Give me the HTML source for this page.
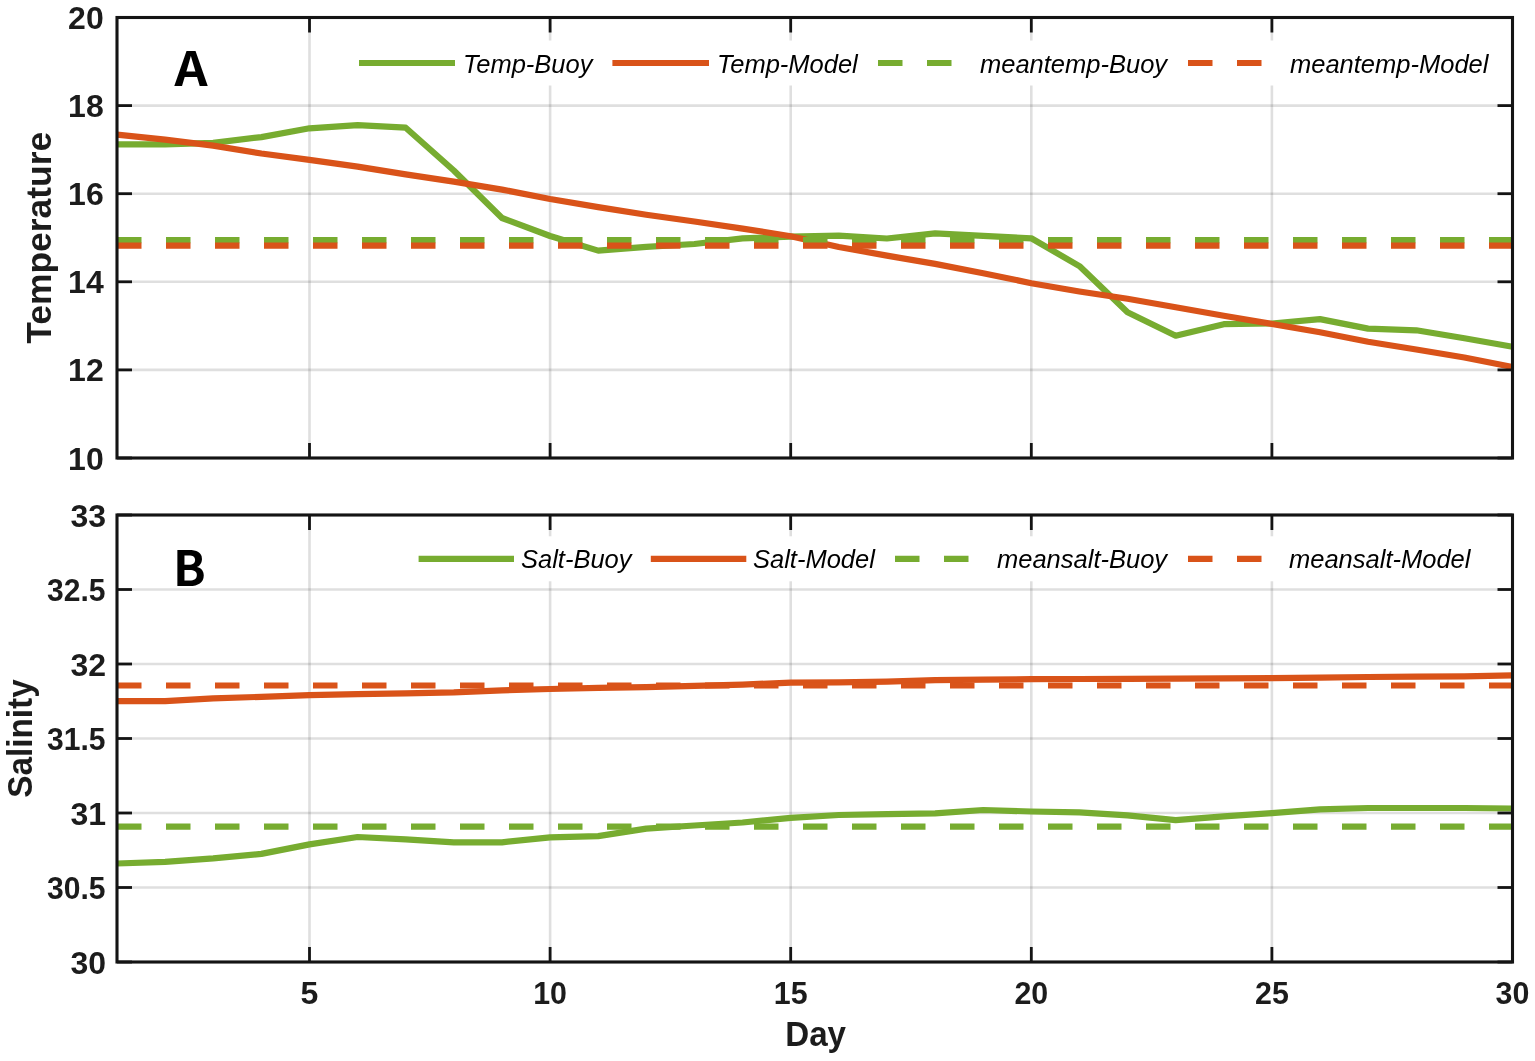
<!DOCTYPE html>
<html><head><meta charset="utf-8"><title>Temperature and Salinity</title><style>
html,body{margin:0;padding:0;background:#fff;}
body{width:1535px;height:1061px;overflow:hidden;}
svg{display:block;}
.tk{font-family:"Liberation Sans",Arial,sans-serif;font-weight:bold;font-size:32px;fill:#1c1c1c;}
.lb{font-family:"Liberation Sans",Arial,sans-serif;font-weight:bold;font-size:35px;fill:#1c1c1c;}
.lg{font-family:"Liberation Sans",Arial,sans-serif;font-style:italic;font-size:25.5px;fill:#000;}
.let{font-family:"Noto Sans CJK JP","Liberation Sans",sans-serif;font-weight:bold;font-size:48px;fill:#000;}
</style></head><body>
<svg width="1535" height="1061" viewBox="0 0 1535 1061">
<rect width="1535" height="1061" fill="#fff"/>
<line x1="309.5" y1="17.5" x2="309.5" y2="458.0" stroke="#262626" stroke-opacity="0.15" stroke-width="2.6"/>
<line x1="550.1" y1="17.5" x2="550.1" y2="458.0" stroke="#262626" stroke-opacity="0.15" stroke-width="2.6"/>
<line x1="790.7" y1="17.5" x2="790.7" y2="458.0" stroke="#262626" stroke-opacity="0.15" stroke-width="2.6"/>
<line x1="1031.3" y1="17.5" x2="1031.3" y2="458.0" stroke="#262626" stroke-opacity="0.15" stroke-width="2.6"/>
<line x1="1271.9" y1="17.5" x2="1271.9" y2="458.0" stroke="#262626" stroke-opacity="0.15" stroke-width="2.6"/>
<line x1="117.0" y1="458.0" x2="1512.5" y2="458.0" stroke="#262626" stroke-opacity="0.15" stroke-width="2.6"/>
<line x1="117.0" y1="369.9" x2="1512.5" y2="369.9" stroke="#262626" stroke-opacity="0.15" stroke-width="2.6"/>
<line x1="117.0" y1="281.8" x2="1512.5" y2="281.8" stroke="#262626" stroke-opacity="0.15" stroke-width="2.6"/>
<line x1="117.0" y1="193.7" x2="1512.5" y2="193.7" stroke="#262626" stroke-opacity="0.15" stroke-width="2.6"/>
<line x1="117.0" y1="105.6" x2="1512.5" y2="105.6" stroke="#262626" stroke-opacity="0.15" stroke-width="2.6"/>
<line x1="117.0" y1="17.5" x2="1512.5" y2="17.5" stroke="#262626" stroke-opacity="0.15" stroke-width="2.6"/>
<polyline points="117.0,144.3 165.1,144.3 213.2,142.8 261.4,137.1 309.5,128.3 357.6,125.1 405.7,127.7 453.8,170.5 502.0,218.0 550.1,236.0 598.2,250.6 646.3,246.8 694.4,244.0 742.6,238.4 790.7,236.7 838.8,235.6 886.9,238.5 935.1,233.4 983.2,235.9 1031.3,238.3 1079.4,266.1 1127.5,312.3 1175.7,335.7 1223.8,324.2 1271.9,323.5 1320.0,319.1 1368.1,328.6 1416.3,330.3 1464.4,338.3 1512.5,346.7" fill="none" stroke="#77AC30" stroke-width="6.2" stroke-linejoin="round"/>
<polyline points="117.0,134.6 165.1,139.6 213.2,145.6 261.4,153.5 309.5,159.9 357.6,166.6 405.7,174.4 453.8,181.6 502.0,189.6 550.1,199.0 598.2,207.1 646.3,214.7 694.4,221.5 742.6,228.6 790.7,236.2 838.8,247.0 886.9,255.6 935.1,263.9 983.2,273.2 1031.3,283.2 1079.4,291.5 1127.5,298.8 1175.7,307.2 1223.8,315.7 1271.9,324.0 1320.0,332.3 1368.1,341.7 1416.3,349.5 1464.4,357.5 1512.5,367.0" fill="none" stroke="#D95319" stroke-width="6.2" stroke-linejoin="round"/>
<line x1="117.0" y1="240.1" x2="1512.5" y2="240.1" stroke="#77AC30" stroke-width="6.2" stroke-dasharray="24.5 24.5"/>
<line x1="117.0" y1="245.6" x2="1512.5" y2="245.6" stroke="#D95319" stroke-width="6.2" stroke-dasharray="24.5 24.5"/>
<line x1="309.5" y1="17.5" x2="309.5" y2="32.5" stroke="#141414" stroke-width="2.8"/>
<line x1="309.5" y1="458.0" x2="309.5" y2="443.0" stroke="#141414" stroke-width="2.8"/>
<line x1="550.1" y1="17.5" x2="550.1" y2="32.5" stroke="#141414" stroke-width="2.8"/>
<line x1="550.1" y1="458.0" x2="550.1" y2="443.0" stroke="#141414" stroke-width="2.8"/>
<line x1="790.7" y1="17.5" x2="790.7" y2="32.5" stroke="#141414" stroke-width="2.8"/>
<line x1="790.7" y1="458.0" x2="790.7" y2="443.0" stroke="#141414" stroke-width="2.8"/>
<line x1="1031.3" y1="17.5" x2="1031.3" y2="32.5" stroke="#141414" stroke-width="2.8"/>
<line x1="1031.3" y1="458.0" x2="1031.3" y2="443.0" stroke="#141414" stroke-width="2.8"/>
<line x1="1271.9" y1="17.5" x2="1271.9" y2="32.5" stroke="#141414" stroke-width="2.8"/>
<line x1="1271.9" y1="458.0" x2="1271.9" y2="443.0" stroke="#141414" stroke-width="2.8"/>
<line x1="117.0" y1="458.0" x2="132.0" y2="458.0" stroke="#141414" stroke-width="2.8"/>
<line x1="1512.5" y1="458.0" x2="1497.5" y2="458.0" stroke="#141414" stroke-width="2.8"/>
<line x1="117.0" y1="369.9" x2="132.0" y2="369.9" stroke="#141414" stroke-width="2.8"/>
<line x1="1512.5" y1="369.9" x2="1497.5" y2="369.9" stroke="#141414" stroke-width="2.8"/>
<line x1="117.0" y1="281.8" x2="132.0" y2="281.8" stroke="#141414" stroke-width="2.8"/>
<line x1="1512.5" y1="281.8" x2="1497.5" y2="281.8" stroke="#141414" stroke-width="2.8"/>
<line x1="117.0" y1="193.7" x2="132.0" y2="193.7" stroke="#141414" stroke-width="2.8"/>
<line x1="1512.5" y1="193.7" x2="1497.5" y2="193.7" stroke="#141414" stroke-width="2.8"/>
<line x1="117.0" y1="105.6" x2="132.0" y2="105.6" stroke="#141414" stroke-width="2.8"/>
<line x1="1512.5" y1="105.6" x2="1497.5" y2="105.6" stroke="#141414" stroke-width="2.8"/>
<line x1="117.0" y1="17.5" x2="132.0" y2="17.5" stroke="#141414" stroke-width="2.8"/>
<line x1="1512.5" y1="17.5" x2="1497.5" y2="17.5" stroke="#141414" stroke-width="2.8"/>
<rect x="117.0" y="17.5" width="1395.5" height="440.5" fill="none" stroke="#141414" stroke-width="3.1"/>
<text x="103.7" y="469.5" text-anchor="end" class="tk">10</text>
<text x="103.7" y="381.4" text-anchor="end" class="tk">12</text>
<text x="103.7" y="293.3" text-anchor="end" class="tk">14</text>
<text x="103.7" y="205.2" text-anchor="end" class="tk">16</text>
<text x="103.7" y="117.1" text-anchor="end" class="tk">18</text>
<text x="103.7" y="29.0" text-anchor="end" class="tk">20</text>
<text transform="translate(50.8,237.8) rotate(-90) scale(1.012,1)" text-anchor="middle" class="lb">Temperature</text>
<text transform="translate(174.5,85.8) scale(1.075,0.98)" class="let">A</text>
<rect x="350" y="40.5" width="1146" height="45" fill="#fff"/>
<line x1="359" y1="63" x2="455" y2="63" stroke="#77AC30" stroke-width="6.2"/>
<text x="463" y="72.6" class="lg">Temp-Buoy</text>
<line x1="612.4" y1="63" x2="709" y2="63" stroke="#D95319" stroke-width="6.2"/>
<text x="717" y="72.6" class="lg">Temp-Model</text>
<line x1="878" y1="63" x2="975" y2="63" stroke="#77AC30" stroke-width="6.2" stroke-dasharray="24.5 24.5"/>
<text x="980" y="72.6" class="lg">meantemp-Buoy</text>
<line x1="1188" y1="63" x2="1285" y2="63" stroke="#D95319" stroke-width="6.2" stroke-dasharray="24.5 24.5"/>
<text x="1290" y="72.6" class="lg">meantemp-Model</text>
<line x1="309.5" y1="515.0" x2="309.5" y2="962.0" stroke="#262626" stroke-opacity="0.15" stroke-width="2.6"/>
<line x1="550.1" y1="515.0" x2="550.1" y2="962.0" stroke="#262626" stroke-opacity="0.15" stroke-width="2.6"/>
<line x1="790.7" y1="515.0" x2="790.7" y2="962.0" stroke="#262626" stroke-opacity="0.15" stroke-width="2.6"/>
<line x1="1031.3" y1="515.0" x2="1031.3" y2="962.0" stroke="#262626" stroke-opacity="0.15" stroke-width="2.6"/>
<line x1="1271.9" y1="515.0" x2="1271.9" y2="962.0" stroke="#262626" stroke-opacity="0.15" stroke-width="2.6"/>
<line x1="117.0" y1="962.0" x2="1512.5" y2="962.0" stroke="#262626" stroke-opacity="0.15" stroke-width="2.6"/>
<line x1="117.0" y1="887.5" x2="1512.5" y2="887.5" stroke="#262626" stroke-opacity="0.15" stroke-width="2.6"/>
<line x1="117.0" y1="813.0" x2="1512.5" y2="813.0" stroke="#262626" stroke-opacity="0.15" stroke-width="2.6"/>
<line x1="117.0" y1="738.5" x2="1512.5" y2="738.5" stroke="#262626" stroke-opacity="0.15" stroke-width="2.6"/>
<line x1="117.0" y1="664.0" x2="1512.5" y2="664.0" stroke="#262626" stroke-opacity="0.15" stroke-width="2.6"/>
<line x1="117.0" y1="589.5" x2="1512.5" y2="589.5" stroke="#262626" stroke-opacity="0.15" stroke-width="2.6"/>
<line x1="117.0" y1="515.0" x2="1512.5" y2="515.0" stroke="#262626" stroke-opacity="0.15" stroke-width="2.6"/>
<polyline points="117.0,863.5 165.1,861.8 213.2,858.4 261.4,853.9 309.5,844.4 357.6,837.0 405.7,839.3 453.8,842.3 502.0,842.3 550.1,837.3 598.2,836.1 646.3,828.6 694.4,825.5 742.6,822.5 790.7,817.8 838.8,815.0 886.9,814.2 935.1,813.4 983.2,810.0 1031.3,811.5 1079.4,812.3 1127.5,815.4 1175.7,820.1 1223.8,816.3 1271.9,813.2 1320.0,809.3 1368.1,808.0 1416.3,808.0 1464.4,808.0 1512.5,808.5" fill="none" stroke="#77AC30" stroke-width="6.2" stroke-linejoin="round"/>
<polyline points="117.0,701.2 165.1,701.2 213.2,698.4 261.4,696.8 309.5,695.2 357.6,694.2 405.7,693.4 453.8,692.4 502.0,690.3 550.1,689.0 598.2,687.8 646.3,687.1 694.4,685.9 742.6,684.6 790.7,682.6 838.8,682.3 886.9,681.7 935.1,680.2 983.2,679.6 1031.3,679.2 1079.4,679.0 1127.5,678.8 1175.7,678.6 1223.8,678.4 1271.9,678.2 1320.0,677.6 1368.1,677.0 1416.3,676.7 1464.4,676.3 1512.5,675.3" fill="none" stroke="#D95319" stroke-width="6.2" stroke-linejoin="round"/>
<line x1="117.0" y1="826.6" x2="1512.5" y2="826.6" stroke="#77AC30" stroke-width="6.2" stroke-dasharray="24.5 24.5"/>
<line x1="117.0" y1="685.5" x2="1512.5" y2="685.5" stroke="#D95319" stroke-width="6.2" stroke-dasharray="24.5 24.5"/>
<line x1="309.5" y1="515.0" x2="309.5" y2="530.0" stroke="#141414" stroke-width="2.8"/>
<line x1="309.5" y1="962.0" x2="309.5" y2="947.0" stroke="#141414" stroke-width="2.8"/>
<line x1="550.1" y1="515.0" x2="550.1" y2="530.0" stroke="#141414" stroke-width="2.8"/>
<line x1="550.1" y1="962.0" x2="550.1" y2="947.0" stroke="#141414" stroke-width="2.8"/>
<line x1="790.7" y1="515.0" x2="790.7" y2="530.0" stroke="#141414" stroke-width="2.8"/>
<line x1="790.7" y1="962.0" x2="790.7" y2="947.0" stroke="#141414" stroke-width="2.8"/>
<line x1="1031.3" y1="515.0" x2="1031.3" y2="530.0" stroke="#141414" stroke-width="2.8"/>
<line x1="1031.3" y1="962.0" x2="1031.3" y2="947.0" stroke="#141414" stroke-width="2.8"/>
<line x1="1271.9" y1="515.0" x2="1271.9" y2="530.0" stroke="#141414" stroke-width="2.8"/>
<line x1="1271.9" y1="962.0" x2="1271.9" y2="947.0" stroke="#141414" stroke-width="2.8"/>
<line x1="117.0" y1="962.0" x2="132.0" y2="962.0" stroke="#141414" stroke-width="2.8"/>
<line x1="1512.5" y1="962.0" x2="1497.5" y2="962.0" stroke="#141414" stroke-width="2.8"/>
<line x1="117.0" y1="887.5" x2="132.0" y2="887.5" stroke="#141414" stroke-width="2.8"/>
<line x1="1512.5" y1="887.5" x2="1497.5" y2="887.5" stroke="#141414" stroke-width="2.8"/>
<line x1="117.0" y1="813.0" x2="132.0" y2="813.0" stroke="#141414" stroke-width="2.8"/>
<line x1="1512.5" y1="813.0" x2="1497.5" y2="813.0" stroke="#141414" stroke-width="2.8"/>
<line x1="117.0" y1="738.5" x2="132.0" y2="738.5" stroke="#141414" stroke-width="2.8"/>
<line x1="1512.5" y1="738.5" x2="1497.5" y2="738.5" stroke="#141414" stroke-width="2.8"/>
<line x1="117.0" y1="664.0" x2="132.0" y2="664.0" stroke="#141414" stroke-width="2.8"/>
<line x1="1512.5" y1="664.0" x2="1497.5" y2="664.0" stroke="#141414" stroke-width="2.8"/>
<line x1="117.0" y1="589.5" x2="132.0" y2="589.5" stroke="#141414" stroke-width="2.8"/>
<line x1="1512.5" y1="589.5" x2="1497.5" y2="589.5" stroke="#141414" stroke-width="2.8"/>
<line x1="117.0" y1="515.0" x2="132.0" y2="515.0" stroke="#141414" stroke-width="2.8"/>
<line x1="1512.5" y1="515.0" x2="1497.5" y2="515.0" stroke="#141414" stroke-width="2.8"/>
<rect x="117.0" y="515.0" width="1395.5" height="447.0" fill="none" stroke="#141414" stroke-width="3.1"/>
<text x="106.0" y="973.5" text-anchor="end" class="tk">30</text>
<text transform="translate(105.6,899.0) scale(0.94,1)" text-anchor="end" class="tk">30.5</text>
<text x="106.0" y="824.5" text-anchor="end" class="tk">31</text>
<text transform="translate(105.6,750.0) scale(0.94,1)" text-anchor="end" class="tk">31.5</text>
<text x="106.0" y="675.5" text-anchor="end" class="tk">32</text>
<text transform="translate(105.6,601.0) scale(0.94,1)" text-anchor="end" class="tk">32.5</text>
<text x="106.0" y="526.5" text-anchor="end" class="tk">33</text>
<text transform="translate(309.5,1003.7) scale(1.0,1)" text-anchor="middle" class="tk">5</text>
<text transform="translate(550.1,1003.7) scale(0.95,1)" text-anchor="middle" class="tk">10</text>
<text transform="translate(790.7,1003.7) scale(0.95,1)" text-anchor="middle" class="tk">15</text>
<text transform="translate(1031.3,1003.7) scale(0.95,1)" text-anchor="middle" class="tk">20</text>
<text transform="translate(1271.9,1003.7) scale(0.95,1)" text-anchor="middle" class="tk">25</text>
<text transform="translate(1512.5,1003.7) scale(0.95,1)" text-anchor="middle" class="tk">30</text>
<text transform="translate(32.2,738.5) rotate(-90) scale(0.952,1)" text-anchor="middle" class="lb">Salinity</text>
<text x="173" y="585.8" class="let">B</text>
<rect x="409.6" y="536.3" width="1085.4" height="45" fill="#fff"/>
<line x1="418.6" y1="558.8" x2="514" y2="558.8" stroke="#77AC30" stroke-width="6.2"/>
<text x="521" y="568.4" class="lg">Salt-Buoy</text>
<line x1="650.8" y1="558.8" x2="746.3" y2="558.8" stroke="#D95319" stroke-width="6.2"/>
<text x="753" y="568.4" class="lg">Salt-Model</text>
<line x1="895" y1="558.8" x2="992" y2="558.8" stroke="#77AC30" stroke-width="6.2" stroke-dasharray="24.5 24.5"/>
<text x="997" y="568.4" class="lg">meansalt-Buoy</text>
<line x1="1188" y1="558.8" x2="1285" y2="558.8" stroke="#D95319" stroke-width="6.2" stroke-dasharray="24.5 24.5"/>
<text x="1289" y="568.4" class="lg">meansalt-Model</text>
<text transform="translate(815.6,1046.1) scale(0.948,1)" text-anchor="middle" class="lb">Day</text>
</svg>
</body></html>
